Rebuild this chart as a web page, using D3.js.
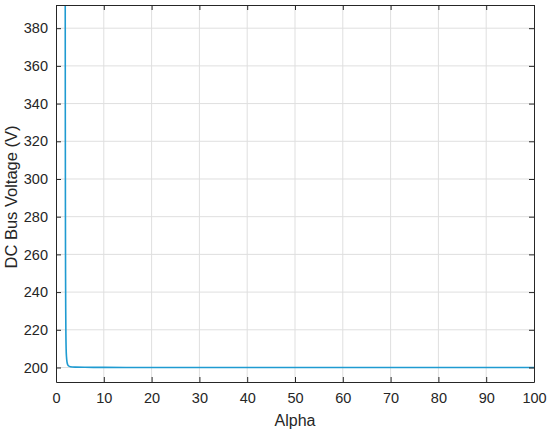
<!DOCTYPE html>
<html><head><meta charset="utf-8">
<script src="https://cdn.jsdelivr.net/npm/d3@7"></script>
<style>body{margin:0;background:#fff}svg{display:block}</style>
</head><body>
<svg id="c" width="550" height="432"></svg>
<script>
const alpha = [1.93, 1.95, 1.97, 2.0, 2.03, 2.07, 2.12, 2.2, 2.3, 2.45, 2.65, 3, 4, 6, 10, 20, 40, 60, 80, 100];
const voltage = [395, 330, 285, 250, 232, 218, 210, 205.5, 203, 201.5, 200.8, 200.4, 200.2, 200.1, 200.05, 200, 200, 200, 200, 200];
const xTicks = [0, 10, 20, 30, 40, 50, 60, 70, 80, 90, 100];
const yTicks = [200, 220, 240, 260, 280, 300, 320, 340, 360, 380];

const svg = d3.select("#c");
const L = 56, R = 534, T = 5, B = 382;
const x = d3.scaleLinear().domain([0, 100]).range([L, R]);
const y = d3.scaleLinear().domain([192.3, 392.3]).range([B, T]);
const font = "Liberation Sans, Arial, sans-serif";
const tc = "#262626";

// grid
svg.append("g").selectAll("line").data(xTicks.slice(1, -1)).join("line")
  .attr("x1", d => x(d)).attr("x2", d => x(d)).attr("y1", T).attr("y2", B)
  .attr("stroke", "#dfdfdf").attr("stroke-width", 1);
svg.append("g").selectAll("line").data(yTicks).join("line")
  .attr("x1", L).attr("x2", R).attr("y1", d => y(d)).attr("y2", d => y(d))
  .attr("stroke", "#dfdfdf").attr("stroke-width", 1);

// clip + line
svg.append("clipPath").attr("id", "clip").append("rect")
  .attr("x", L).attr("y", T).attr("width", R - L).attr("height", B - T);
const pts = alpha.map((a, i) => [a, voltage[i]]);
svg.append("path").datum(pts)
  .attr("clip-path", "url(#clip)")
  .attr("fill", "none").attr("stroke", "#1f9bd1").attr("stroke-width", 1.6)
  .attr("d", d3.line().x(d => x(d[0])).y(d => y(d[1])).curve(d3.curveMonotoneX));

// axes
const ax = svg.append("g").attr("transform", `translate(0,${B})`)
  .call(d3.axisBottom(x).tickValues(xTicks).tickSizeInner(-5).tickSizeOuter(0).tickPadding(11));
const axT = svg.append("g").attr("transform", `translate(0,${T})`)
  .call(d3.axisTop(x).tickValues(xTicks).tickSizeInner(-5).tickSizeOuter(0).tickFormat(""));
const ay = svg.append("g").attr("transform", `translate(${L},0)`)
  .call(d3.axisLeft(y).tickValues(yTicks).tickSizeInner(-5).tickSizeOuter(0).tickPadding(8));
const ayR = svg.append("g").attr("transform", `translate(${R},0)`)
  .call(d3.axisRight(y).tickValues(yTicks).tickSizeInner(-5).tickSizeOuter(0).tickFormat(""));
[ax, axT, ay, ayR].forEach(g => {
  g.select(".domain").attr("stroke", "#262626").attr("stroke-width", 1);
  g.selectAll(".tick line").attr("stroke", "#262626");
  g.selectAll("text").attr("fill", tc).attr("font-family", font).attr("font-size", 14.5);
});

// labels
svg.append("text").attr("x", (L + R) / 2).attr("y", 426).attr("text-anchor", "middle")
  .attr("fill", tc).attr("font-family", font).attr("font-size", 16).text("Alpha");
svg.append("text").attr("transform", `translate(17,197) rotate(-90)`).attr("text-anchor", "middle")
  .attr("fill", tc).attr("font-family", font).attr("font-size", 16.5).text("DC Bus Voltage (V)");
</script>
</body></html>
